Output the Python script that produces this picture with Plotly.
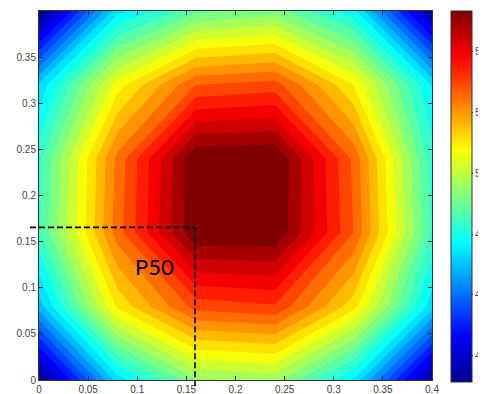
import plotly.graph_objects as go

# grid coordinates (m)
x_vals = [0.0, 0.08, 0.16, 0.24, 0.32, 0.4]
y_vals = [0.0, 0.08, 0.16, 0.24, 0.32, 0.4]

# values, rows = y (bottom to top), cols = x (left to right)
z_row_y000 = [43.3, 47.4, 49.4, 49.6, 47.6, 43.5]
z_row_y008 = [47.0, 50.9, 52.8, 53.0, 51.0, 47.4]
z_row_y016 = [48.5, 52.4, 55.3, 55.3, 52.6, 48.5]
z_row_y024 = [48.4, 52.3, 55.3, 55.35, 52.5, 48.3]
z_row_y032 = [47.3, 50.6, 52.6, 52.8, 50.8, 47.6]
z_row_y040 = [43.2, 47.5, 48.9, 49.2, 47.8, 43.6]
z_rows = [z_row_y000, z_row_y008, z_row_y016, z_row_y024, z_row_y032, z_row_y040]

# colour limits and contour levels
c_min, c_max = 43.15, 55.35
level_start, level_end, level_step = 43.6, 54.85, 0.45

# marker (P50)
p50_x, p50_y = 0.1588, 0.1655
p50_label = "P50"

tick_vals = [0, 0.05, 0.1, 0.15, 0.2, 0.25, 0.3, 0.35, 0.4]
cb_ticks = [44, 46, 48, 50, 52, 54]
ax_range = [0.0, 0.4]

jet = [[0.0, "rgb(0,0,143)"], [0.125, "rgb(0,0,255)"], [0.375, "rgb(0,255,255)"],
       [0.625, "rgb(255,255,0)"], [0.875, "rgb(255,0,0)"], [1.0, "rgb(128,0,0)"]]

# the page puts the figure 8px in from the top-left corner of the window
W, H = 478, 394
ml, mr, mt, mb = 31, 54, 3, 22
pw, ph = W - ml - mr, H - mt - mb

fig = go.Figure()
fig.add_trace(go.Contour(
    x=x_vals, y=y_vals, z=z_rows,
    colorscale=jet, zmin=c_min, zmax=c_max, autocontour=False,
    contours=dict(start=level_start, end=level_end, size=level_step, coloring="fill"),
    line=dict(width=0), line_smoothing=0, showscale=False, hoverinfo="skip",
))
# smooth colour bar
fig.add_trace(go.Scatter(
    x=[x_vals[0]], y=[y_vals[0]], mode="markers", hoverinfo="skip", showlegend=False,
    marker=dict(color=[c_min], cmin=c_min, cmax=c_max, colorscale=jet, opacity=0, size=1,
                showscale=True,
                colorbar=dict(x=(443 - ml) / pw, xanchor="left", xpad=0, ypad=0,
                              y=0.5 - 0.5 / ph, yanchor="middle", len=1.0 + 1.5 / ph,
                              thickness=21, outlinewidth=1, outlinecolor="#333",
                              tickvals=cb_ticks, ticks="outside", ticklen=1,
                              tickcolor="#333",
                              tickfont=dict(family="Liberation Sans, Arial", size=10, color="#444"))),
))

def to_frac(v):
    return (v - ax_range[0]) / (ax_range[1] - ax_range[0])

dash = "6px,3px"
# horizontal dashed line
fig.add_shape(type="line", xref="paper", yref="paper",
              x0=-9.0 / pw, x1=to_frac(p50_x), y0=to_frac(p50_y), y1=to_frac(p50_y),
              line=dict(color="black", width=1.6, dash=dash))
# vertical dashed line
fig.add_shape(type="line", xref="paper", yref="paper",
              x0=to_frac(p50_x), x1=to_frac(p50_x), y0=to_frac(p50_y), y1=-8.0 / ph,
              line=dict(color="black", width=1.6, dash=dash))

fig.add_annotation(x=0.1176, y=0.123, xref="x", yref="y", text=p50_label, showarrow=False,
                   font=dict(family="Lato, Open Sans, sans-serif", size=22, color="black"),
                   xanchor="center", yanchor="middle")

axis_common = dict(range=ax_range, tickvals=tick_vals, ticks="inside", ticklen=4,
                   tickcolor="#333", showline=True, linecolor="#333", linewidth=1,
                   mirror="ticks", showgrid=False, zeroline=False, automargin=False,
                   tickfont=dict(family="Liberation Sans, Arial", size=10, color="#444"))
fig.update_xaxes(**axis_common)
fig.update_yaxes(**axis_common)

fig.update_layout(width=W, height=H,
                  margin=dict(l=ml, r=mr, t=mt, b=mb, autoexpand=False),
                  paper_bgcolor="white", plot_bgcolor="white", showlegend=False)

fig.write_html("out.html")
